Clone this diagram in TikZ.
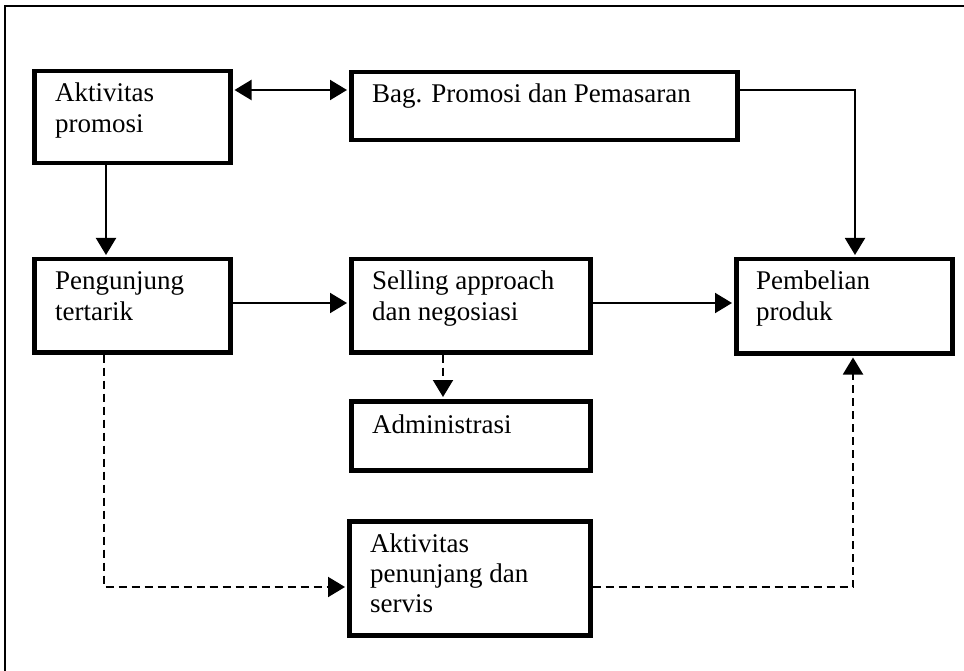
\documentclass[tikz,border=0pt]{standalone}
\usepackage{fontspec}
\setmainfont{Liberation Serif}
\usetikzlibrary{arrows.meta}
\begin{document}
\begin{tikzpicture}[x=1pt,y=-1pt,
  box/.style={draw,line width=4.5pt,inner sep=0pt,anchor=north west},
  txt/.style={inner sep=0pt,anchor=base west,font=\fontsize{27}{31}\selectfont},
  conn/.style={line width=2pt,-{Triangle[length=17pt,width=20pt]},shorten >=2pt},
  dconn/.style={conn,dash pattern=on 8pt off 5pt}]
\useasboundingbox (0,0) rectangle (964,671);
% outer frame (top and left sides only)
\draw[line width=2pt] (5,671) -- (5,6) -- (964,6);
% boxes
\node[box,minimum width=196pt,minimum height=92pt] (A) at (32,69) {};
\node[box,minimum width=386pt,minimum height=68pt] (B) at (349,70) {};
\node[box,minimum width=196pt,minimum height=93pt] (P) at (32,257) {};
\node[box,minimum width=239pt,minimum height=93pt] (S) at (349,257) {};
\node[box,minimum width=216pt,minimum height=94pt] (Pb) at (734,257) {};
\node[box,minimum width=239pt,minimum height=69pt] (Ad) at (349,399) {};
\node[box,minimum width=241pt,minimum height=114pt] (Ap) at (347,519) {};
% texts
\node[txt] (tA) at (55,102) {\parbox[t]{170pt}{Aktivitas\\promosi}};
\node[txt] (tB) at (372,103) {Bag. Promosi dan Pemasaran};
\node[txt] (tP) at (55,290) {\parbox[t]{170pt}{Pengunjung\\tertarik}};
\node[txt] (tS) at (372,290) {\parbox[t]{215pt}{Selling approach\\dan negosiasi}};
\node[txt] (tPb) at (756,290) {\parbox[t]{190pt}{Pembelian\\produk}};
\node[txt] (tAd) at (372,433) {Administrasi};
\node[txt] (tAp) at (370,552) {\parbox[t]{215pt}{\baselineskip=30pt Aktivitas\\penunjang dan\\servis}};
% helper coordinates
\coordinate (yAB) at (0,90);
\coordinate (yPS) at (0,303);
\coordinate (xAP) at (106,0);
\coordinate (xPAp) at (104,0);
\coordinate (xBPb) at (855,0);
\coordinate (xSAd) at (443,0);
\coordinate (xApPb) at (853,0);
\coordinate (yAp) at (0,587);
% connectors
\draw[line width=2pt,{Triangle[length=17pt,width=20pt]}-{Triangle[length=17pt,width=20pt]},shorten <=2pt,shorten >=2pt]
  (A.east |- yAB) -- (B.west |- yAB);
\draw[conn] (A.south -| xAP) -- (P.north -| xAP);
\draw[conn] (P.east |- yPS) -- (S.west |- yPS);
\draw[conn] (S.east |- yPS) -- (Pb.west |- yPS);
\draw[conn] (B.east |- yAB) -| (Pb.north -| xBPb);
\draw[dconn] (S.south -| xSAd) -- (Ad.north -| xSAd);
\draw[dconn] (P.south -| xPAp) |- (Ap.west |- yAp);
\draw[dconn] (Ap.east |- yAp) -| (Pb.south -| xApPb);
\end{tikzpicture}
\end{document}
